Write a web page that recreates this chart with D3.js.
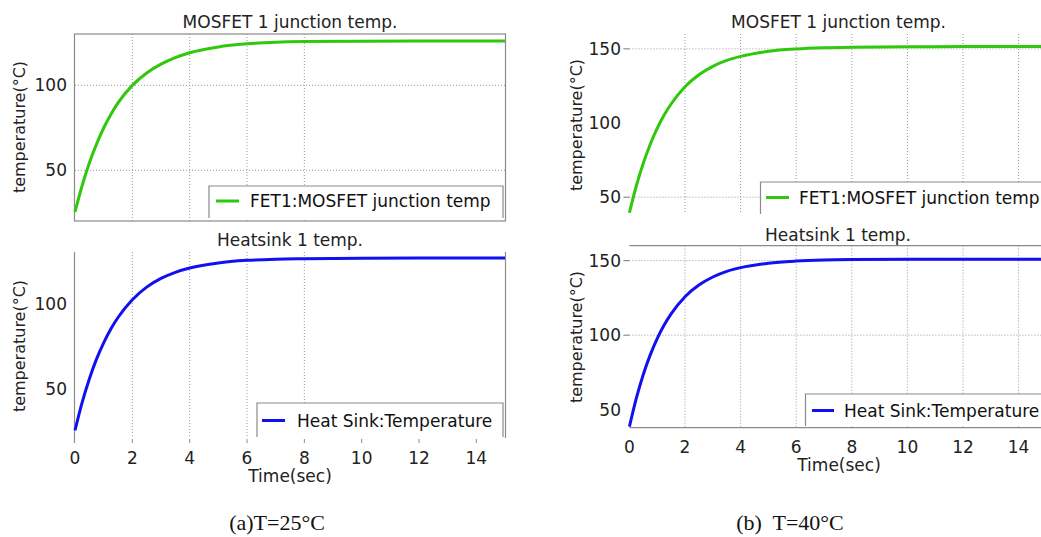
<!DOCTYPE html>
<html>
<head>
<meta charset="utf-8">
<script src="https://cdn.jsdelivr.net/npm/d3@7/dist/d3.min.js"></script>
<style>
  html, body { margin: 0; padding: 0; background: #fff; }
  svg { display: block; font-family: "DejaVu Sans", Verdana, sans-serif; }
</style>
</head>
<body>
<svg id="chart" width="1041" height="537"></svg>
<script>
// ---- data ----
const timeSec    = [0, 0.25, 0.5, 0.75, 1, 1.25, 1.5, 2, 2.5, 3, 3.5, 4, 5, 6, 7, 8, 10, 12, 15];
const fetTemp25  = [25.5, 41.1, 54.3, 65.4, 74.9, 82.9, 89.7, 100.0, 107.3, 112.5, 116.3, 119.2, 122.6, 124.4, 125.4, 125.8, 126.0, 126.1, 126.1];
const sinkTemp25 = [26.0, 42.4, 56.1, 67.7, 77.3, 85.4, 92.1, 102.5, 109.9, 115.0, 118.6, 121.1, 124.1, 125.6, 126.3, 126.6, 126.9, 127.0, 127.0];
const fetTemp40  = [39.5, 57.7, 72.9, 85.7, 96.4, 105.4, 112.8, 124.4, 132.5, 138.2, 142.2, 144.9, 148.3, 149.9, 150.7, 151.1, 151.4, 151.5, 151.5];
const sinkTemp40 = [38.7, 57.8, 73.7, 86.8, 97.7, 106.8, 114.3, 125.8, 133.6, 139.0, 142.8, 145.3, 148.3, 149.7, 150.4, 150.7, 150.9, 151.0, 151.0];
const xTickValues = [0, 2, 4, 6, 8, 10, 12, 14];
const yTicksA = [50, 100];
const yTicksB = [50, 100, 150];
const titles = ["MOSFET 1 junction temp.", "Heatsink 1 temp."];
const legendLabels = ["FET1:MOSFET junction temp", "Heat Sink:Temperature"];
const yLabel = "temperature(\u00B0C)";
const xLabel = "Time(sec)";
const captions = ["(a)T=25\u00B0C", "(b)  T=40\u00B0C"];

const GREEN = "#30c80c";
const BLUE = "#1010f0";
const GRID = "#9a9a9a";
const FRAME = "#8a8a8a";

const svg = d3.select("#chart");

const panels = [
  { id: "a1", values: fetTemp25, color: GREEN, title: titles[0], legend: legendLabels[0],
    xr: [75, 505], yd: [20.2, 130.2], yr: [221, 34], vgrid: [2, 4, 6, 8], hgrid: [50, 100], ticksY: yTicksA,
    frame: "box", xlabels: false, titleXY: [290, 28], ylabXY: [25, 127],
    leg: { x: 209, y: 186, w: 294, h: 32, ly: 201, l1: 216, l2: 239, tx: 250 } },
  { id: "a2", values: sinkTemp25, color: BLUE, title: titles[1], legend: legendLabels[1],
    xr: [75, 505], yd: [21.5, 130.5], yr: [438, 252], vgrid: [2, 4, 6, 8], hgrid: [], ticksY: yTicksA,
    frame: "sides", xlabels: true, xlabY: 464, xtitleY: 482, titleXY: [290, 246], ylabXY: [25, 346],
    leg: { x: 257, y: 403, w: 246, h: 34, ly: 420.5, l1: 262, l2: 285, tx: 297 } },
  { id: "b1", values: fetTemp40, color: GREEN, title: titles[0], legend: legendLabels[0],
    xr: [629.4, 1046.4], yd: [39, 160], yr: [213.5, 34], vgrid: [2, 4, 6, 8, 10, 12, 14], hgrid: [50, 150], ticksY: yTicksB,
    tickMarks: [50, 150], frame: "none", xlabels: false, titleXY: [838.5, 28], ylabXY: [582, 125],
    leg: { x: 760.5, y: 182, w: 290, h: 32, ly: 197.5, l1: 766, l2: 789, tx: 799 } },
  { id: "b2", values: sinkTemp40, color: BLUE, title: titles[1], legend: legendLabels[1],
    xr: [629.4, 1046.4], yd: [38, 160], yr: [427.7, 245.7], vgrid: [2, 4, 6, 8, 10, 12, 14], hgrid: [100, 150], ticksY: yTicksB,
    tickMarks: [100, 150], frame: "topbottom", xlabels: true, xlabY: 453, xtitleY: 471, titleXY: [838, 240.5], ylabXY: [582, 337],
    leg: { x: 805.5, y: 394, w: 250, h: 32, ly: 410.5, l1: 812, l2: 834, tx: 844 } }
];

panels.forEach(p => {
  const x = d3.scaleLinear().domain([0, 15]).range(p.xr);
  const y = d3.scaleLinear().domain(p.yd).range(p.yr);
  const g = svg.append("g").attr("class", "panel-" + p.id);
  const x0 = p.xr[0], x1 = Math.min(p.xr[1], 1041);
  const yb = p.yr[0], yt = p.yr[1];

  svg.append("clipPath").attr("id", "clip-" + p.id)
    .append("rect").attr("x", x0 - 2).attr("y", yt).attr("width", x1 - x0 + 2).attr("height", yb - yt);

  // grid
  g.selectAll(".vg").data(p.vgrid).enter().append("line")
    .attr("x1", d => x(d)).attr("x2", d => x(d)).attr("y1", yt).attr("y2", yb)
    .attr("stroke", GRID).attr("stroke-width", 1).attr("stroke-dasharray", "1,2");
  g.selectAll(".hg").data(p.hgrid).enter().append("line")
    .attr("x1", x0).attr("x2", x1).attr("y1", d => y(d)).attr("y2", d => y(d))
    .attr("stroke", GRID).attr("stroke-width", 1).attr("stroke-dasharray", "1,2");

  // frame
  if (p.frame === "box") {
    g.append("rect").attr("x", x0 - 0.5).attr("y", yt).attr("width", x1 - x0 + 1).attr("height", yb - yt)
      .attr("fill", "none").attr("stroke", FRAME).attr("stroke-width", 1.2);
  } else if (p.frame === "sides") {
    g.append("line").attr("x1", x0 - 0.5).attr("x2", x0 - 0.5).attr("y1", yt).attr("y2", yb + 5)
      .attr("stroke", FRAME).attr("stroke-width", 1.2);
    g.append("line").attr("x1", x1 + 0.5).attr("x2", x1 + 0.5).attr("y1", yt).attr("y2", yb)
      .attr("stroke", FRAME).attr("stroke-width", 1.2);
    g.selectAll(".xt").data(xTickValues.slice(1)).enter().append("line")
      .attr("x1", d => x(d)).attr("x2", d => x(d)).attr("y1", yb + 1).attr("y2", yb + 5)
      .attr("stroke", FRAME).attr("stroke-width", 1);
  } else if (p.frame === "topbottom") {
    g.append("line").attr("x1", x0).attr("x2", x1).attr("y1", yt).attr("y2", yt)
      .attr("stroke", FRAME).attr("stroke-width", 1.2);
    g.append("line").attr("x1", x0).attr("x2", x1).attr("y1", yb).attr("y2", yb)
      .attr("stroke", FRAME).attr("stroke-width", 1.2);
  }
  if (p.tickMarks) {
    g.selectAll(".tm").data(p.tickMarks).enter().append("line")
      .attr("x1", x0 - 6).attr("x2", x0).attr("y1", d => y(d)).attr("y2", d => y(d))
      .attr("stroke", FRAME).attr("stroke-width", 1.2);
  }

  // y tick labels
  const labRight = p.xr[0] < 300 ? 67 : 621;
  g.selectAll(".yl").data(p.ticksY.filter(v => v >= p.yd[0] && v <= p.yd[1])).enter().append("text")
    .attr("x", labRight).attr("y", d => y(d) + 6).attr("text-anchor", "end")
    .attr("font-size", 17).attr("fill", "#222").text(d => d);

  // x tick labels
  if (p.xlabels) {
    g.selectAll(".xl").data(xTickValues).enter().append("text")
      .attr("x", d => x(d)).attr("y", p.xlabY).attr("text-anchor", "middle")
      .attr("font-size", 17).attr("fill", "#222").text(d => d);
    g.append("text").attr("x", (p.xr[0] < 300) ? 290 : 839).attr("y", p.xtitleY)
      .attr("text-anchor", "middle").attr("font-size", 17).attr("fill", "#222").text(xLabel);
  }

  // title
  g.append("text").attr("x", p.titleXY[0]).attr("y", p.titleXY[1]).attr("text-anchor", "middle")
    .attr("font-size", 17).attr("fill", "#222").text(p.title);

  // y axis label
  g.append("text").attr("transform", `translate(${p.ylabXY[0]},${p.ylabXY[1]}) rotate(-90)`)
    .attr("text-anchor", "middle").attr("font-size", 16).attr("fill", "#222").text(yLabel);

  // line
  const line = d3.line().x((d, i) => x(timeSec[i])).y(d => y(d)).curve(d3.curveMonotoneX);
  g.append("path").datum(p.values).attr("d", line).attr("fill", "none")
    .attr("stroke", p.color).attr("stroke-width", 3).attr("clip-path", `url(#clip-${p.id})`);

  // legend
  const L = p.leg;
  g.append("rect").attr("x", L.x).attr("y", L.y).attr("width", L.w).attr("height", L.h)
    .attr("fill", "#fff").attr("stroke", "none");
  g.append("path").attr("d", `M${L.x},${L.y + L.h} V${L.y} H${L.x + L.w} V${L.y + L.h}`)
    .attr("fill", "none").attr("stroke", FRAME).attr("stroke-width", 1.2);
  g.append("line").attr("x1", L.l1).attr("x2", L.l2).attr("y1", L.ly).attr("y2", L.ly)
    .attr("stroke", p.color).attr("stroke-width", 3);
  g.append("text").attr("x", L.tx).attr("y", L.ly + 6).attr("font-size", 17).attr("fill", "#111").text(p.legend);
});

// captions
svg.append("text").attr("x", 277).attr("y", 530).attr("text-anchor", "middle")
  .attr("font-family", "'Liberation Serif', 'Times New Roman', serif").attr("font-size", 22)
  .attr("fill", "#111").text(captions[0]);
svg.append("text").attr("x", 790).attr("y", 530).attr("text-anchor", "middle")
  .attr("font-family", "'Liberation Serif', 'Times New Roman', serif").attr("font-size", 22)
  .attr("fill", "#111").style("white-space", "pre").text(captions[1]);
</script>
</body>
</html>
